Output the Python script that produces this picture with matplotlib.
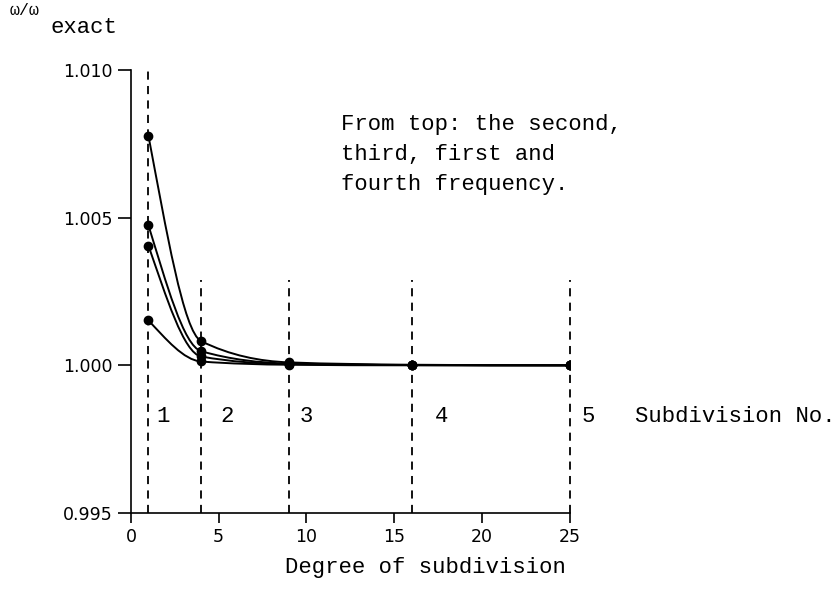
import numpy as np
import matplotlib.pyplot as plt
from matplotlib.path import Path
from matplotlib.patches import PathPatch

degree = [1, 4, 9, 16, 25]
second_freq = [1.00777, 1.00082, 1.00010, 1.00002, 1.00000]
third_freq = [1.00474, 1.00048, 1.00006, 1.00001, 1.00000]
first_freq = [1.00405, 1.00030, 1.00004, 1.00001, 1.00000]
fourth_freq = [1.00152, 1.00013, 1.00002, 1.00000, 1.00000]

subdiv_labels = ["1", "2", "3", "4", "5"]
xticks = [0, 5, 10, 15, 20, 25]
yticks = [0.995, 1.000, 1.005, 1.010]
yticklabels = ["0.995", "1.000", "1.005", "1.010"]

mono = "Liberation Mono"


def end_slope(h0, h1, d0, d1):
    m = ((2 * h0 + h1) * d0 - h0 * d1) / (h0 + h1)
    if np.sign(m) != np.sign(d0):
        m = 0.0
    elif np.sign(d0) != np.sign(d1) and abs(m) > abs(3 * d0):
        m = 3 * d0
    return m


def pchip_slopes(x, y):
    x = np.asarray(x, float)
    y = np.asarray(y, float)
    h = np.diff(x)
    d = np.diff(y) / h
    m = np.zeros_like(y)
    for k in range(1, len(x) - 1):
        if d[k - 1] * d[k] <= 0:
            m[k] = 0
        else:
            w1 = 2 * h[k] + h[k - 1]
            w2 = h[k] + 2 * h[k - 1]
            m[k] = (w1 + w2) / (w1 / d[k - 1] + w2 / d[k])
    m[0] = end_slope(h[0], h[1], d[0], d[1])
    m[-1] = end_slope(h[-1], h[-2], d[-1], d[-2])
    return m


def smooth_path(x, y):
    # monotone cubic through the points, drawn as bezier segments
    m = pchip_slopes(x, y)
    verts = [(x[0], y[0])]
    codes = [Path.MOVETO]
    for i in range(len(x) - 1):
        h = x[i + 1] - x[i]
        verts += [
            (x[i] + h / 3, y[i] + m[i] * h / 3),
            (x[i + 1] - h / 3, y[i + 1] - m[i + 1] * h / 3),
            (x[i + 1], y[i + 1]),
        ]
        codes += [Path.CURVE4] * 3
    return Path(verts, codes)


fig = plt.figure(figsize=(8.34, 5.95), dpi=100)
ax = fig.add_axes([0.157, 0.138, 0.526, 0.744])

# dashed subdivision lines
label_offsets = [0.45, 1.1, 0.6, 1.3, 0.7]
for i, xv in enumerate(degree):
    top = 1.010 if i == 0 else 1.0029
    ax.plot([xv, xv], [0.995, top], color="black", lw=1.3,
            dashes=(4.5, 3.5), clip_on=False, zorder=1)
    ax.text(xv + label_offsets[i], 0.99825, subdiv_labels[i], fontsize=16,
            family=mono, va="center", ha="left")

for series in [second_freq, third_freq, first_freq, fourth_freq]:
    ax.add_patch(PathPatch(smooth_path(degree, series), facecolor="none",
                           edgecolor="black", lw=1.4, zorder=2))
    ax.plot(degree, series, "o", color="black", ms=6, zorder=3)

ax.set_xlim(0, 25)
ax.set_ylim(0.995, 1.010)
ax.spines["top"].set_visible(False)
ax.spines["right"].set_visible(False)
ax.spines["left"].set_linewidth(1.2)
ax.spines["bottom"].set_linewidth(1.2)
ax.set_xticks(xticks)
ax.set_yticks(yticks)
ax.set_yticklabels(yticklabels)
ax.tick_params(axis="both", direction="out", width=1.2, labelsize=12.5)
ax.tick_params(axis="x", length=7, pad=4)
ax.tick_params(axis="y", length=9.5, pad=3.5)

ax.text(1.149, 0.99825, "Subdivision No.", transform=ax.get_yaxis_transform(),
        fontsize=16, family=mono, va="center", ha="left")
ax.text(11.95, 1.0085, "From top: the second,\nthird, first and\nfourth frequency.",
        fontsize=16, family=mono, va="top", ha="left", linespacing=1.55)

ax.text(0.672, -0.123, "Degree of subdivision", transform=ax.transAxes,
        fontsize=16, family=mono, va="center", ha="center")

fig.text(0.012, 0.974, "ω/ω", fontsize=12, family=mono, va="baseline")
fig.text(0.060, 0.9445, "exact", fontsize=16, family=mono, va="baseline")

fig.savefig("out.png", dpi=100)
